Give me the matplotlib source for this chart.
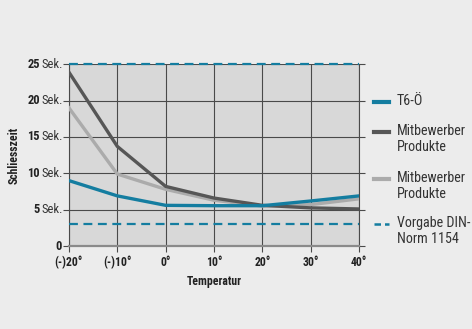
import matplotlib
matplotlib.use('Agg')
import matplotlib.pyplot as plt
from matplotlib.lines import Line2D

# Temperatur (°C) und Schliesszeit (Sek.)
temperaturen = [-20, -10, 0, 10, 20, 30, 40]
x_labels = ['(-)20°', '(-)10°', '0°', '10°', '20°', '30°', '40°']
t6_oe = [9.0, 6.9, 5.6, 5.55, 5.55, 6.2, 6.9]
mitbewerber_dunkel = [23.9, 13.7, 8.2, 6.6, 5.6, 5.25, 5.1]
mitbewerber_hell = [19.0, 9.9, 7.8, 6.3, 5.5, 5.7, 6.5]
vorgabe_oben = 25
vorgabe_unten = 3
y_ticks = [0, 5, 10, 15, 20, 25]
legend_labels = ['T6-Ö', 'Mitbewerber\nProdukte', 'Mitbewerber\nProdukte', 'Vorgabe DIN-\nNorm 1154']

teal = '#147da0'
dunkel = '#565656'
hell = '#ababab'
plt.rcParams['font.family'] = ['Roboto Condensed', 'DejaVu Sans']

W, H = 472, 329
fig = plt.figure(figsize=(W / 100, H / 100), dpi=100, facecolor='#ececec')
ax = fig.add_axes([0.146, 0.252, 0.615, 0.553])
ax.set_facecolor('#d8d8d8')

ax.plot(temperaturen, mitbewerber_hell, color=hell, lw=2.4, solid_joinstyle='round', zorder=3)
ax.plot(temperaturen, mitbewerber_dunkel, color=dunkel, lw=2.4, solid_joinstyle='round', zorder=4)
ax.plot(temperaturen, t6_oe, color=teal, lw=2.4, solid_joinstyle='round', zorder=5)
ax.axhline(vorgabe_oben, color=teal, lw=1.6, ls=(0, (4, 2.5)), zorder=6, clip_on=False)
ax.axhline(vorgabe_unten, color=teal, lw=1.6, ls=(0, (4, 2.5)), zorder=6)

ax.set_xlim(-20, 40)
ax.set_ylim(0, 25)
ax.set_xticks(temperaturen)
ax.set_xticklabels(x_labels, fontsize=8.5, fontweight='bold', color='#222222')
ax.set_yticks(y_ticks)
ax.set_yticklabels([])
ax.grid(True, color='#4a4a4a', lw=0.8)
ax.set_axisbelow(True)
ax.tick_params(axis='x', length=4, color='#4a4a4a', width=0.8, pad=3)
ax.tick_params(axis='y', length=4, color='#4a4a4a', width=0.8, left=True, right=True)
ax.spines['top'].set_visible(False)
for side in ['left', 'right']:
    ax.spines[side].set_color('#4a4a4a')
    ax.spines[side].set_linewidth(0.8)
ax.spines['bottom'].set_color('#8a8a8a')
ax.spines['bottom'].set_linewidth(1.6)

# y-Beschriftung: Zahl fett, "Sek." normal
trans = ax.get_yaxis_transform()
for v in y_ticks:
    if v == 0:
        ax.text(-0.025, v, '0', transform=trans, ha='right', va='center',
                fontsize=9, fontweight='bold', color='#222222')
    else:
        ax.text(-0.1, v, str(v), transform=trans, ha='right', va='center',
                fontsize=9, fontweight='bold', color='#222222')
        ax.text(-0.094, v, 'Sek.', transform=trans, ha='left', va='center',
                fontsize=9, color='#333333')

ax.set_ylabel('Schliesszeit', fontsize=8.5, fontweight='bold', color='#222222')
ax.yaxis.set_label_coords(-0.168, 0.5)
ax.set_xlabel('Temperatur', fontsize=8.5, fontweight='bold', color='#222222', labelpad=4)

# Legende rechts, Symbol auf Höhe der ersten Textzeile
legend_styles = [
    dict(color=teal, lw=3),
    dict(color=dunkel, lw=3),
    dict(color=hell, lw=3),
    dict(color=teal, lw=1.8, ls=(0, (2.6, 1.6))),
]
zeilen_y = [102, 132, 179, 224]
for label, style, py in zip(legend_labels, legend_styles, zeilen_y):
    fy = 1 - py / H
    fig.add_artist(Line2D([374 / W, 389 / W], [fy, fy], transform=fig.transFigure, **style))
    fig.text(397 / W, fy + 8 / H, label, ha='left', va='top', fontsize=10.2,
             color='#333333', linespacing=1.22)

fig.savefig('out.png', dpi=100, facecolor=fig.get_facecolor())
